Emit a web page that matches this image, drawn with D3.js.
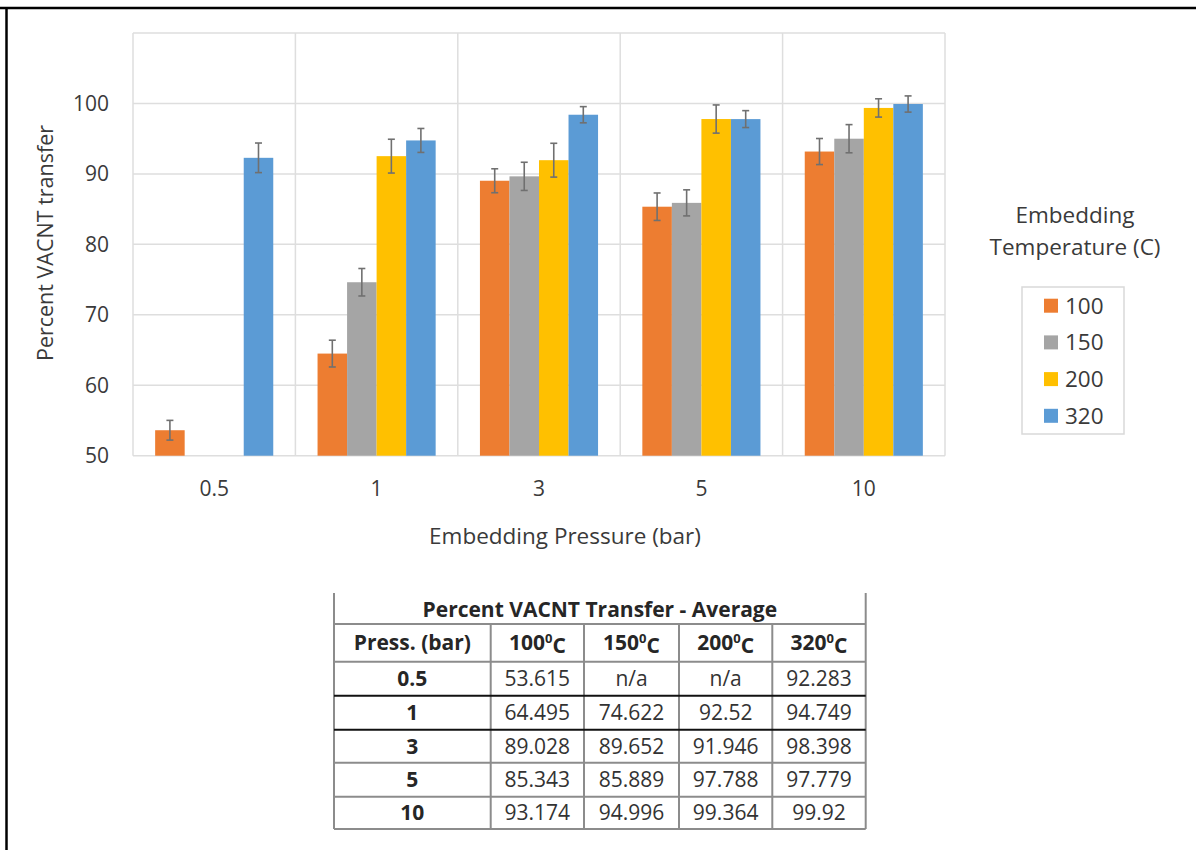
<!DOCTYPE html>
<html>
<head>
<meta charset="utf-8">
<script src="https://cdn.jsdelivr.net/npm/d3@7"></script>
<style>
  body { margin: 0; background: #fff; }
  svg text { font-family: "Open Sans", "Noto Sans", sans-serif; }
</style>
</head>
<body>
<div id="chart"></div>
<script>
// pressures (categories) and temperature series
const pressures = ["0.5", "1", "3", "5", "10"];
const temps = ["100", "150", "200", "320"];

// average percent transfer, one array per temperature (null = n/a)
const t100 = [53.615, 64.495, 89.028, 85.343, 93.174];
const t150 = [null, 74.622, 89.652, 85.889, 94.996];
const t200 = [null, 92.52, 91.946, 97.788, 99.364];
const t320 = [92.283, 94.749, 98.398, 97.779, 99.92];

// error bar half widths
const e100 = [1.4, 1.9, 1.7, 1.95, 1.85];
const e150 = [null, 1.95, 2.0, 1.85, 2.0];
const e200 = [null, 2.4, 2.4, 2.0, 1.3];
const e320 = [2.1, 1.7, 1.15, 1.2, 1.15];

const yTicks = [50, 60, 70, 80, 90, 100];
const yGrid = [60, 70, 80, 90, 100, 110];

const colors = ["#ED7D31", "#A5A5A5", "#FFC000", "#5B9BD5"];

const width = 1196, height = 850;
const plot = { left: 133, right: 945, top: 33, bottom: 455.7 };
const txt = "#3a3a3a";

const svg = d3.select("#chart").append("svg")
    .attr("width", width)
    .attr("height", height);

// outer frame (top + left only)
svg.append("line").attr("x1", 0).attr("x2", width).attr("y1", 8).attr("y2", 8)
    .attr("stroke", "#000").attr("stroke-width", 2.5);
svg.append("line").attr("x1", 6.5).attr("x2", 6.5).attr("y1", 7).attr("y2", height)
    .attr("stroke", "#000").attr("stroke-width", 2.5);

const values = [t100, t150, t200, t320];
const errors = [e100, e150, e200, e320];

let rows = [];
pressures.forEach((p, i) => {
  temps.forEach((t, j) => {
    if (values[j][i] != null) rows.push({ p: p, t: t, v: values[j][i], e: errors[j][i], c: colors[j] });
  });
});

const x0 = d3.scaleBand().domain(pressures).range([plot.left, plot.right]).padding(0);
const x1 = d3.scaleBand().domain(temps).range([0, x0.bandwidth()]).paddingInner(0).paddingOuter(0.75);
const y = d3.scaleLinear().domain([50, 110]).range([plot.bottom, plot.top]);

// grid
const grid = svg.append("g").attr("stroke", "#dedede").attr("stroke-width", 1.5);
grid.selectAll("line.h").data(yGrid.concat([50])).join("line")
    .attr("class", "h")
    .attr("x1", plot.left).attr("x2", plot.right)
    .attr("y1", d => y(d)).attr("y2", d => y(d));
grid.selectAll("line.v").data(pressures.map(p => x0(p)).concat([plot.right])).join("line")
    .attr("class", "v")
    .attr("x1", d => d).attr("x2", d => d)
    .attr("y1", plot.top).attr("y2", plot.bottom);

// bars
svg.append("g").selectAll("rect").data(rows).join("rect")
    .attr("x", d => x0(d.p) + x1(d.t))
    .attr("y", d => y(d.v))
    .attr("width", x1.bandwidth())
    .attr("height", d => y(50) - y(d.v))
    .attr("fill", d => d.c);

// error bars
const eb = svg.append("g").attr("stroke", "#707070").attr("stroke-width", 1.6);
rows.forEach(d => {
  const cx = x0(d.p) + x1(d.t) + x1.bandwidth() / 2;
  eb.append("line").attr("x1", cx).attr("x2", cx).attr("y1", y(d.v + d.e)).attr("y2", y(d.v - d.e));
  eb.append("line").attr("x1", cx - 3.5).attr("x2", cx + 3.5).attr("y1", y(d.v + d.e)).attr("y2", y(d.v + d.e));
  eb.append("line").attr("x1", cx - 3.5).attr("x2", cx + 3.5).attr("y1", y(d.v - d.e)).attr("y2", y(d.v - d.e));
});

// y tick labels
svg.append("g").selectAll("text").data(yTicks).join("text")
    .attr("x", 109)
    .attr("y", d => y(d))
    .attr("dy", "0.35em")
    .attr("text-anchor", "end")
    .attr("font-size", 21)
    .attr("fill", txt)
    .text(d => d);

// x tick labels
svg.append("g").selectAll("text").data(pressures).join("text")
    .attr("x", d => x0(d) + x0.bandwidth() / 2)
    .attr("y", 489)
    .attr("dy", "0.35em")
    .attr("text-anchor", "middle")
    .attr("font-size", 21)
    .attr("fill", txt)
    .text(d => d);

// axis titles
svg.append("text")
    .attr("x", 565).attr("y", 536).attr("dy", "0.35em")
    .attr("text-anchor", "middle")
    .attr("font-size", 22.5)
    .attr("fill", txt)
    .text("Embedding Pressure (bar)");

svg.append("text")
    .attr("transform", "translate(45,243) rotate(-90)")
    .attr("dy", "0.35em")
    .attr("text-anchor", "middle")
    .attr("font-size", 21.5)
    .attr("fill", txt)
    .text("Percent VACNT transfer");

// legend
svg.append("text")
    .attr("x", 1075).attr("y", 215).attr("dy", "0.35em")
    .attr("text-anchor", "middle").attr("font-size", 22.5).attr("fill", txt)
    .text("Embedding");
svg.append("text")
    .attr("x", 1075).attr("y", 247).attr("dy", "0.35em")
    .attr("text-anchor", "middle").attr("font-size", 22.5).attr("fill", txt)
    .text("Temperature (C)");

svg.append("rect")
    .attr("x", 1022).attr("y", 287).attr("width", 102).attr("height", 147)
    .attr("fill", "none").attr("stroke", "#d9d9d9").attr("stroke-width", 1.5);

const legend = svg.append("g").selectAll("g").data(temps).join("g")
    .attr("transform", (d, i) => `translate(1044,${305.7 + i * 36.7})`);
legend.append("rect")
    .attr("x", 0).attr("y", -7).attr("width", 14).attr("height", 14)
    .attr("fill", (d, i) => colors[i]);
legend.append("text")
    .attr("x", 21).attr("dy", "0.35em")
    .attr("font-size", 22.5).attr("fill", txt)
    .text(d => d);

// table of averages
const colX = [334, 490.7, 584, 679, 772.3, 865.7];
const rowY = [593, 624, 661.7, 695.7, 729.7, 762.7, 796.7, 829];
const tbl = svg.append("g");
const lineColor = "#8c8c8c";

// outer verticals run up into the title row
tbl.append("line").attr("x1", colX[0]).attr("x2", colX[0]).attr("y1", rowY[0]).attr("y2", rowY[7])
    .attr("stroke", lineColor).attr("stroke-width", 2);
tbl.append("line").attr("x1", colX[5]).attr("x2", colX[5]).attr("y1", rowY[0]).attr("y2", rowY[7])
    .attr("stroke", lineColor).attr("stroke-width", 2);
// inner verticals
colX.slice(1, 5).forEach(cx => {
  tbl.append("line").attr("x1", cx).attr("x2", cx).attr("y1", rowY[1]).attr("y2", rowY[7])
      .attr("stroke", lineColor).attr("stroke-width", 2);
});
// horizontals
rowY.slice(1).forEach((ry, i) => {
  const dark = (i === 2 || i === 3);
  tbl.append("line").attr("x1", colX[0]).attr("x2", colX[5]).attr("y1", ry).attr("y2", ry)
      .attr("stroke", dark ? "#111" : lineColor).attr("stroke-width", 2);
});

tbl.append("text")
    .attr("x", (colX[0] + colX[5]) / 2).attr("y", (rowY[0] + rowY[1]) / 2 + 1).attr("dy", "0.35em")
    .attr("text-anchor", "middle").attr("font-size", 21).attr("font-weight", "bold").attr("fill", "#262626")
    .text("Percent VACNT Transfer - Average");

const mid = i => (colX[i] + colX[i + 1]) / 2;
const rmid = r => (rowY[r] + rowY[r + 1]) / 2;

tbl.append("text")
    .attr("x", mid(0)).attr("y", rmid(1)).attr("dy", "0.35em")
    .attr("text-anchor", "middle").attr("font-size", 21).attr("font-weight", "bold").attr("fill", "#262626")
    .text("Press. (bar)");

temps.forEach((t, j) => {
  const tx = tbl.append("text")
      .attr("x", mid(j + 1)).attr("y", rmid(1)).attr("dy", "0.35em")
      .attr("text-anchor", "middle").attr("font-size", 21).attr("font-weight", "bold").attr("fill", "#262626");
  tx.append("tspan").text(t);
  tx.append("tspan").attr("font-size", 13).attr("dy", "-0.55em").text("0");
  tx.append("tspan").attr("dy", "0.45em").text("C");
});

pressures.forEach((p, i) => {
  tbl.append("text")
      .attr("x", mid(0)).attr("y", rmid(i + 2)).attr("dy", "0.35em")
      .attr("text-anchor", "middle").attr("font-size", 21).attr("font-weight", "bold").attr("fill", "#262626")
      .text(p);
  values.forEach((s, j) => {
    tbl.append("text")
        .attr("x", mid(j + 1)).attr("y", rmid(i + 2)).attr("dy", "0.35em")
        .attr("text-anchor", "middle").attr("font-size", 21).attr("fill", "#333")
        .text(s[i] == null ? "n/a" : String(s[i]));
  });
});
</script>
</body>
</html>
